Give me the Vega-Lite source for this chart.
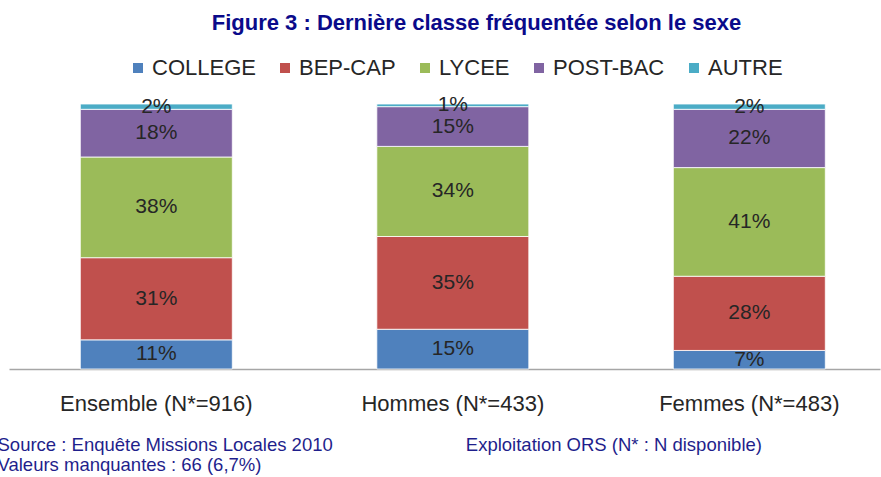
{
  "$schema": "https://vega.github.io/schema/vega-lite/v6.json",
  "autosize": "none",
  "width": 871,
  "height": 265,
  "padding": {"left": 9, "top": 104, "right": 1, "bottom": 108},
  "background": "white",
  "config": {"view": {"stroke": null}, "font": "Liberation Sans"},
  "title": {
    "text": "Figure 3 : Dernière classe fréquentée selon le sexe",
    "font": "Liberation Sans",
    "fontSize": 22,
    "fontWeight": "bold",
    "color": "#0A0A8A",
    "anchor": "middle",
    "dx": 32,
    "offset": 22
  },
  "data": {
    "values": [
      {"groupe": "Ensemble (N*=916)", "classe": "COLLEGE", "rang": 1, "part": 0.11},
      {"groupe": "Ensemble (N*=916)", "classe": "BEP-CAP", "rang": 2, "part": 0.31},
      {"groupe": "Ensemble (N*=916)", "classe": "LYCEE", "rang": 3, "part": 0.38},
      {"groupe": "Ensemble (N*=916)", "classe": "POST-BAC", "rang": 4, "part": 0.18},
      {"groupe": "Ensemble (N*=916)", "classe": "AUTRE", "rang": 5, "part": 0.02},
      {"groupe": "Hommes (N*=433)", "classe": "COLLEGE", "rang": 1, "part": 0.15},
      {"groupe": "Hommes (N*=433)", "classe": "BEP-CAP", "rang": 2, "part": 0.35},
      {"groupe": "Hommes (N*=433)", "classe": "LYCEE", "rang": 3, "part": 0.34},
      {"groupe": "Hommes (N*=433)", "classe": "POST-BAC", "rang": 4, "part": 0.15},
      {"groupe": "Hommes (N*=433)", "classe": "AUTRE", "rang": 5, "part": 0.01},
      {"groupe": "Femmes (N*=483)", "classe": "COLLEGE", "rang": 1, "part": 0.07},
      {"groupe": "Femmes (N*=483)", "classe": "BEP-CAP", "rang": 2, "part": 0.28},
      {"groupe": "Femmes (N*=483)", "classe": "LYCEE", "rang": 3, "part": 0.41},
      {"groupe": "Femmes (N*=483)", "classe": "POST-BAC", "rang": 4, "part": 0.22},
      {"groupe": "Femmes (N*=483)", "classe": "AUTRE", "rang": 5, "part": 0.02}
    ]
  },
  "layer": [
    {
      "mark": {"type": "bar", "stroke": "#ffffff", "strokeWidth": 1, "strokeOpacity": 0.8},
      "encoding": {
        "x": {
          "field": "groupe",
          "type": "nominal",
          "sort": null,
          "scale": {"paddingInner": 0.4874, "paddingOuter": 0.2125, "align": 0.566},
          "axis": {
            "title": ["Source : Enquête Missions Locales 2010", "Valeurs manquantes : 66 (6,7%)"],
            "titleFont": "Liberation Sans",
            "titleFontSize": 18.5,
            "titleFontWeight": "normal",
            "titleColor": "#1F1F8C",
            "titleAnchor": "start",
            "titleAlign": "left",
            "titleX": -12,
            "titleY": 66,
            "titleBaseline": "top",
            "titleLineHeight": 20,
            "labelFont": "Liberation Sans",
            "labelFontSize": 22,
            "labelColor": "#262626",
            "labelPadding": 24,
            "labelAngle": 0,
            "labelLimit": 0,
            "ticks": false,
            "domainColor": "#A6A6A6",
            "domainWidth": 1.5
          }
        },
        "y": {
          "field": "part",
          "type": "quantitative",
          "stack": "zero",
          "scale": {"domain": [0, 1]},
          "axis": null
        },
        "order": {"field": "rang", "type": "quantitative", "sort": "ascending"},
        "color": {
          "field": "classe",
          "type": "nominal",
          "sort": ["COLLEGE", "BEP-CAP", "LYCEE", "POST-BAC", "AUTRE"],
          "scale": {
            "domain": ["COLLEGE", "BEP-CAP", "LYCEE", "POST-BAC", "AUTRE"],
            "range": ["#4F81BD", "#C0504D", "#9BBB59", "#8064A2", "#4BACC6"]
          },
          "legend": {
            "orient": "none",
            "legendX": 118,
            "legendY": -47,
            "direction": "horizontal",
            "gridAlign": "none",
            "title": null,
            "symbolType": "square",
            "symbolSize": 100,
            "symbolStrokeWidth": 0,
            "labelFont": "Liberation Sans",
            "labelFontSize": 22,
            "labelColor": "#262626",
            "labelOffset": 3,
            "columnPadding": 18,
            "padding": 0
          }
        }
      }
    },
    {
      "mark": {"type": "text", "font": "Liberation Sans", "fontSize": 21, "baseline": "middle", "align": "center", "color": "#262626"},
      "encoding": {
        "x": {"field": "groupe", "type": "nominal", "sort": null},
        "y": {"field": "part", "type": "quantitative", "stack": "zero", "bandPosition": 0.5},
        "detail": {"field": "classe", "type": "nominal"},
        "order": {"field": "rang", "type": "quantitative", "sort": "ascending"},
        "text": {"field": "part", "type": "quantitative", "format": ".0%"}
      }
    },
    {
      "data": {"values": [{"note": "Exploitation ORS (N* : N disponible)"}]},
      "mark": {"type": "text", "font": "Liberation Sans", "fontSize": 18.5, "align": "left", "baseline": "middle", "dx": 13, "color": "#1F1F8C"},
      "encoding": {
        "x": {"datum": "Hommes (N*=433)", "type": "nominal"},
        "y": {"datum": -0.287, "type": "quantitative"},
        "text": {"field": "note", "type": "nominal"}
      }
    }
  ]
}
